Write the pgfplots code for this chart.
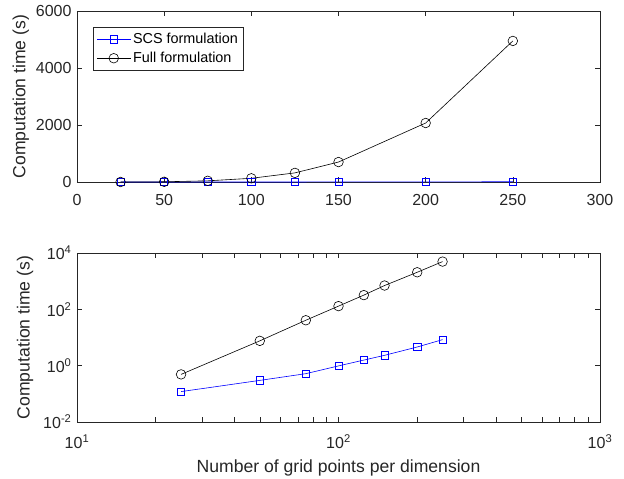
\documentclass[border=0pt]{standalone}
\usepackage{pgfplots}
\pgfplotsset{compat=1.18}
\usepackage{fontspec}
\setmainfont{Liberation Sans}
\definecolor{axgray}{rgb}{0.15,0.15,0.15}
\pgfplotstableread{
x full scs
25 0.49 0.12
50 7.6 0.30
75 41 0.52
100 130 0.98
125 320 1.58
150 700 2.33
200 2070 4.6
250 4950 8.4
}\datatab
\begin{document}
\begin{tikzpicture}
\path[use as bounding box] (-77pt,-297pt) rectangle (547pt,182pt);
\pgfplotsset{
  every axis/.append style={
    scale only axis, width=523pt,
    axis line style={axgray, line width=0.5pt},
    tick style={axgray, line width=0.5pt},
    major tick length=5pt, minor tick length=5pt,
    tick align=inside,
    ticklabel style={text=axgray, font=\fontsize{16}{18}\selectfont},
    xticklabel style={yshift=-9pt},
    yticklabel style={xshift=-2pt},
    label style={text=axgray, font=\fontsize{17.6}{20}\selectfont},
    /pgf/number format/assume math mode=true,
    /pgf/number format/set thousands separator={},
    scaled ticks=false,
  },
  scs/.style={blue, line width=0.6pt, mark=square, mark size=3.6pt, mark options={solid}},
  full/.style={black, line width=0.6pt, mark=o, mark size=4.8pt, mark options={solid}},
}
\begin{axis}[
  at={(0pt,0pt)}, anchor=south west, height=171pt,
  xmin=0, xmax=300, ymin=0, ymax=6000,
  xtick={0,50,100,150,200,250,300},
  ytick={0,2000,4000,6000},
  ylabel={Computation time (s)},
  ylabel style={at={(axis description cs:-0.1075,0.5)}, anchor=center},
  legend style={at={(axis description cs:0.031,0.906)}, anchor=north west,
    draw=axgray, line width=0.5pt, font=\fontsize{14.4}{17}\selectfont,
    inner xsep=3pt, inner ysep=4pt, row sep=3pt, cells={anchor=west}},
  legend image code/.code={\draw[mark repeat=2,mark phase=2] plot coordinates {(0pt,0pt) (17pt,0pt) (34pt,0pt)};},
]
\addplot[scs] table[x=x, y=scs] {\datatab};
\addplot[full] table[x=x, y=full] {\datatab};
\legend{SCS formulation, Full formulation}
\end{axis}
\begin{axis}[
  at={(0pt,-240pt)}, anchor=south west, height=169pt,
  xmode=log, ymode=log,
  xmin=10, xmax=1000, ymin=0.01, ymax=10000,
  xtick={10,100,1000},
  xticklabels={10\textsuperscript{1},10\textsuperscript{2},10\textsuperscript{3}},
  ytick={0.01,1,100,10000},
  yticklabels={10\textsuperscript{-2},10\textsuperscript{0},10\textsuperscript{2},10\textsuperscript{4}},
  yminorticks=false,
  xminorticks=true,
  ylabel={Computation time (s)},
  ylabel style={at={(axis description cs:-0.0994,0.5)}, anchor=center},
  xlabel={Number of grid points per dimension},
  xlabel style={at={(axis description cs:0.5,-0.27)}, anchor=center},
]
\addplot[scs] table[x=x, y=scs] {\datatab};
\addplot[full] table[x=x, y=full] {\datatab};
\end{axis}
\end{tikzpicture}
\end{document}
